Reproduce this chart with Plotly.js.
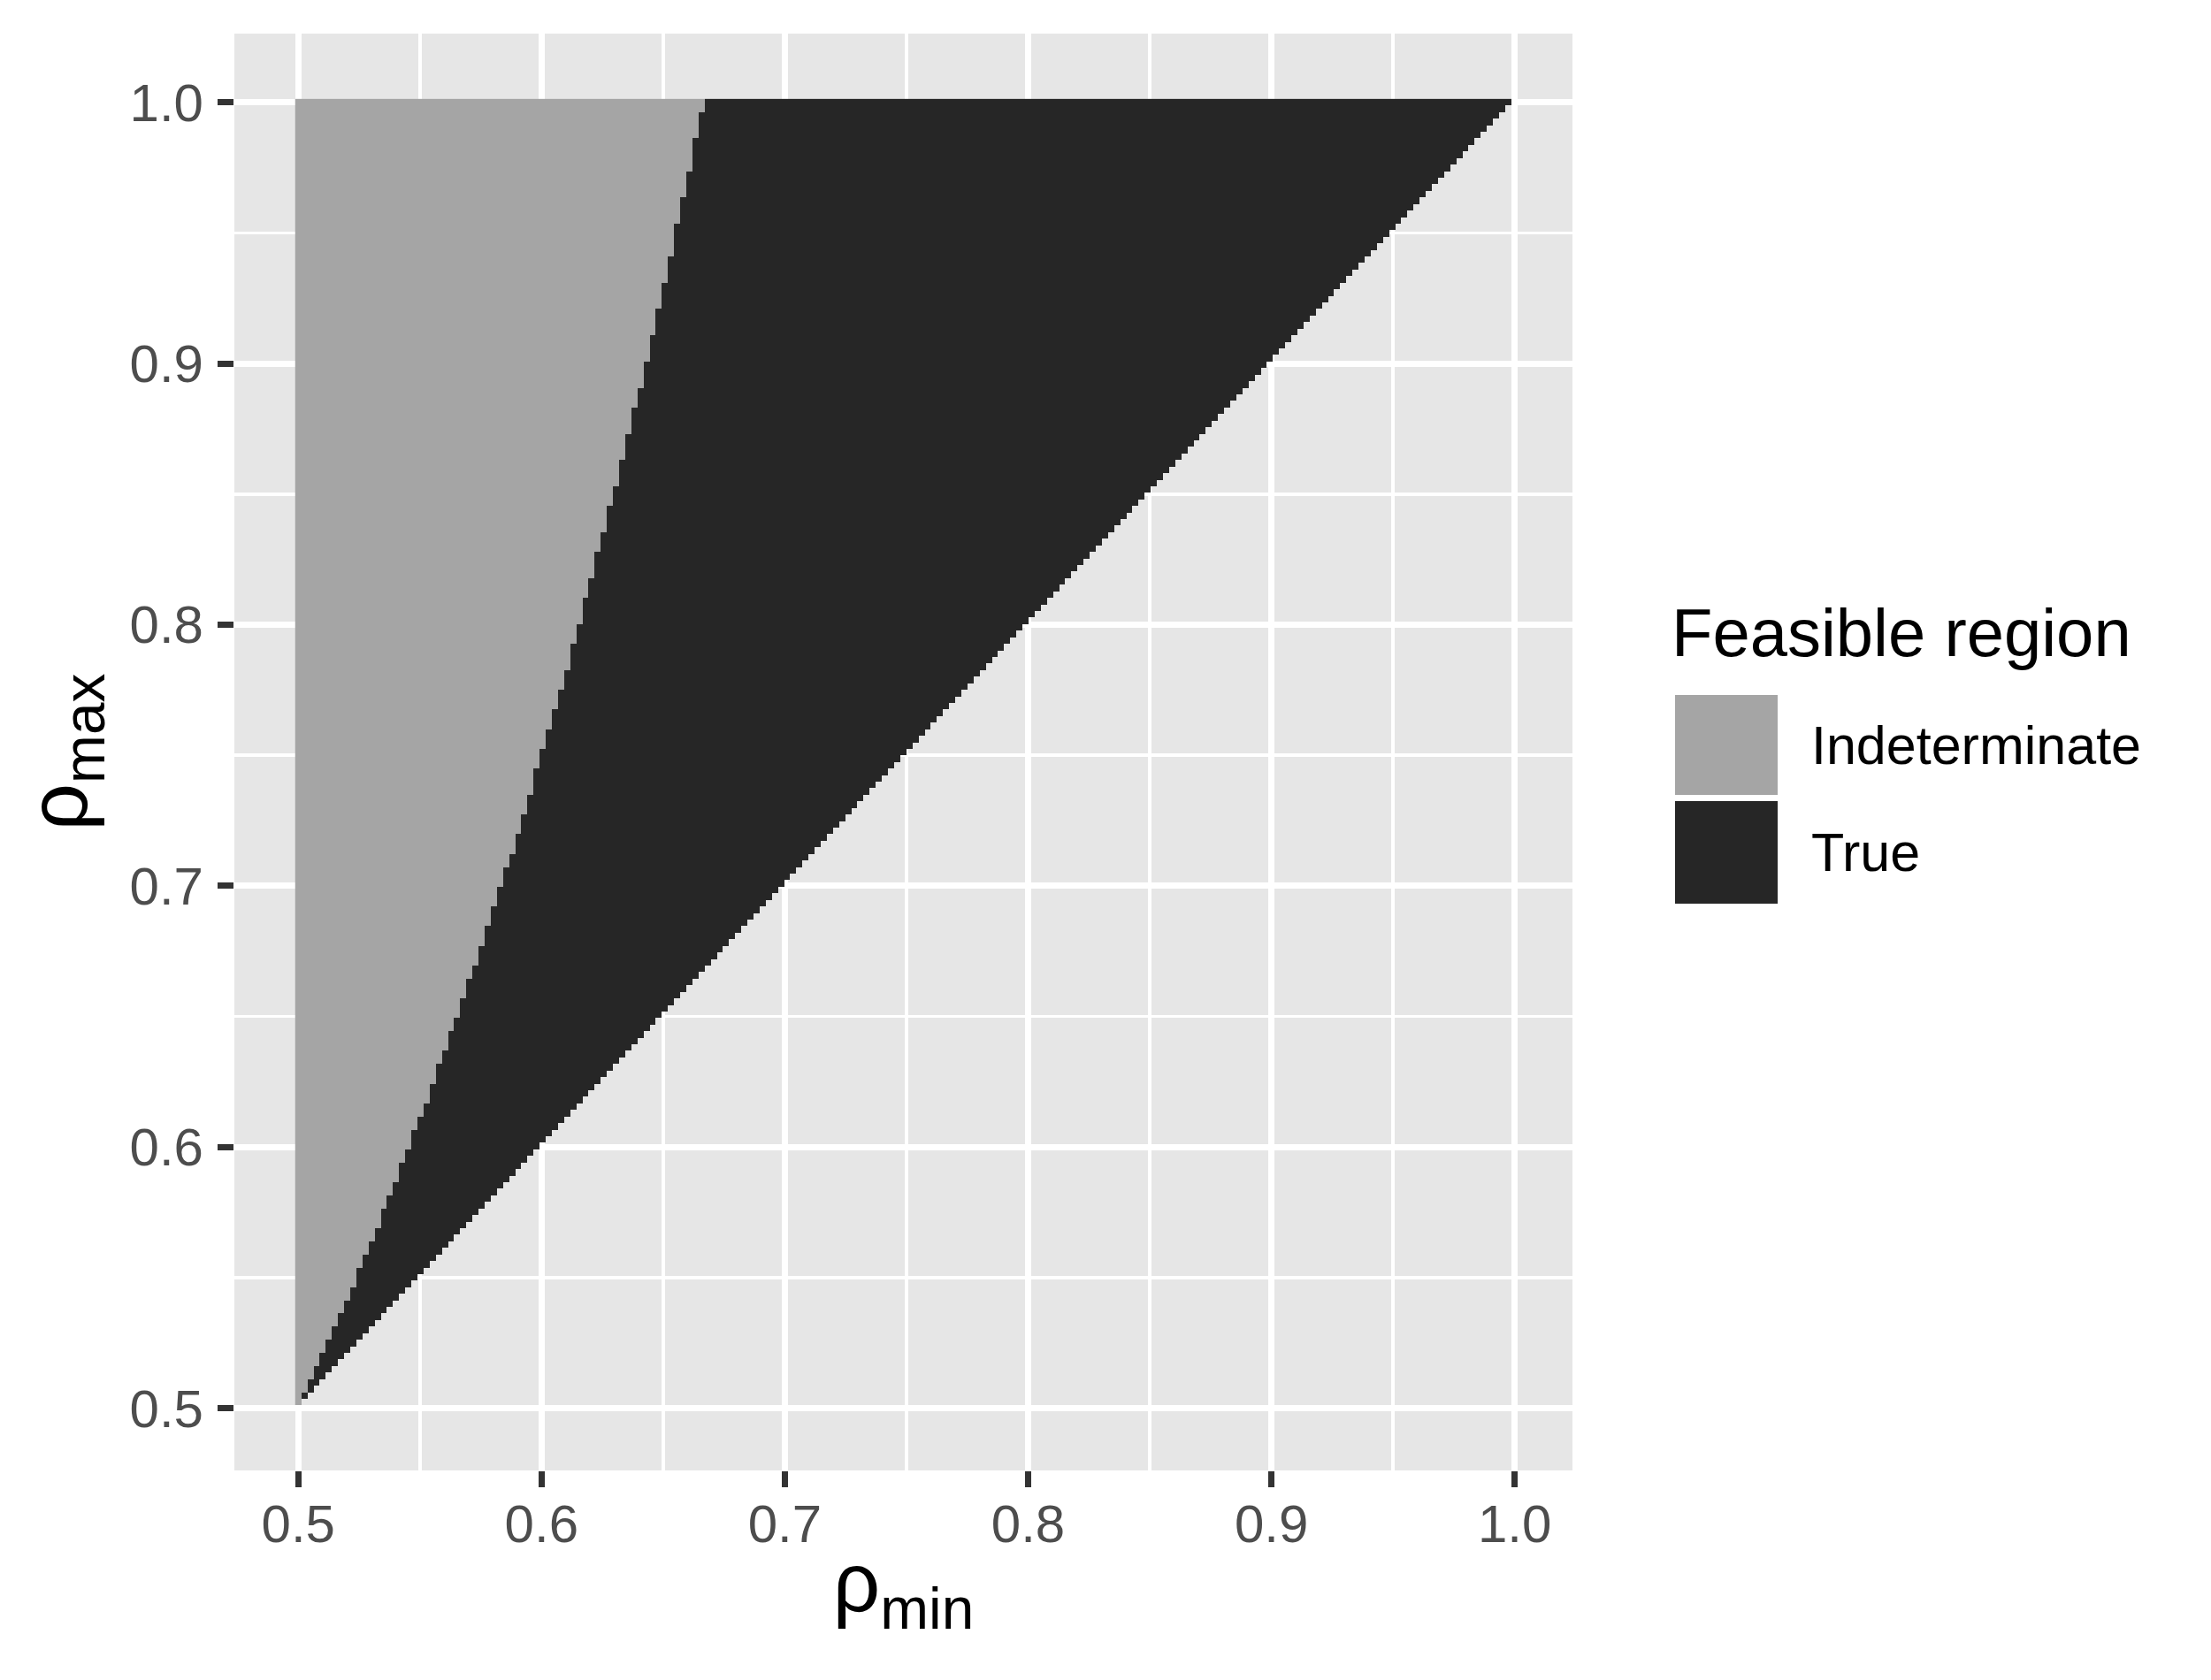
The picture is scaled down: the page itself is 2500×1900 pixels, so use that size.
<!DOCTYPE html>
<html>
<head>
<meta charset="utf-8">
<script src="https://cdn.plot.ly/plotly-3.0.1.min.js"></script>
<style>
  html, body { margin: 0; padding: 0; background: #ffffff; }
  #chart { width: 2500px; height: 1900px; }
</style>
</head>
<body>
<div id="chart"></div>
<script>
// ---------------- data ----------------
// rho grid: 200 evenly spaced values from 0.5 to 1.0 (both axes)
const gridFrom = 0.5;
const gridTo = 1.0;
const gridPoints = 200;

// fill categories and their colours
const categories = ['Indeterminate', 'True'];
const categoryColors = ['#A5A5A5', '#262626'];

// Read from the staircase boundary in the picture: going up the rho_max rows
// (from the lowest filled row), how many consecutive rows have an
// Indeterminate band that is 1, 2, 3, ... cells wide (counted from rho_min = 0.5).
const rowsPerIndeterminateWidth = [
  2, 2, 2, 2, 2, 2, 2, 2, 2, 3,
  2, 2, 2, 3, 2, 2, 3, 2, 3, 2,
  2, 3, 3, 2, 3, 2, 3, 3, 2, 3,
  3, 3, 3, 3, 2, 3, 3, 3, 4, 3,
  3, 3, 3, 3, 4, 3, 4, 3, 4, 3,
  4, 3, 4, 4, 4, 3, 4, 4, 4, 4,
  4, 5, 4, 4, 5, 4, 2
];

// axis ticks
const tickValues = [0.5, 0.6, 0.7, 0.8, 0.9, 1.0];
const tickLabels = ['0.5', '0.6', '0.7', '0.8', '0.9', '1.0'];
const minorTickValues = [0.55, 0.65, 0.75, 0.85, 0.95];

const xTitle = 'ρ<sub>min</sub>';
const yTitle = 'ρ<sub>max</sub>';
const legendTitle = 'Feasible region';

// ---------------- build heatmap table ----------------
const step = (gridTo - gridFrom) / (gridPoints - 1);
const rhoGrid = [];
for (let i = 0; i < gridPoints; i++) rhoGrid.push(gridFrom + i * step);

// indeterminate width for each rho_max row (row 0 has no filled cells)
const widthPerRow = [0];
rowsPerIndeterminateWidth.forEach((nRows, idx) => {
  for (let r = 0; r < nRows; r++) widthPerRow.push(idx + 1);
});

const z = [];
for (let j = 0; j < gridPoints; j++) {
  const row = [];
  for (let k = 0; k < gridPoints; k++) {
    if (k >= j) row.push(null);                 // outside feasible region (rho_min >= rho_max)
    else row.push(k < widthPerRow[j] ? 0 : 1);  // 0 = Indeterminate, 1 = True
  }
  z.push(row);
}

const trace = {
  type: 'heatmap',
  x: rhoGrid,
  y: rhoGrid,
  z: z,
  zmin: 0,
  zmax: 1,
  colorscale: [[0, categoryColors[0]], [0.5, categoryColors[0]], [0.5, categoryColors[1]], [1, categoryColors[1]]],
  showscale: false,
  hoverinfo: 'skip',
  xgap: 0, ygap: 0
};

// ggplot-like expansion (5% of the tile extent)
const xLo = gridFrom - step / 2, xHi = gridTo - step + step / 2;
const yLo = gridFrom + step - step / 2, yHi = gridTo + step / 2;
const xPad = 0.05 * (xHi - xLo), yPad = 0.05 * (yHi - yLo);

// ---------------- layout ----------------
const W = 2500, H = 1900;
const M = { l: 265, r: 722, t: 38, b: 237 };
const pw = W - M.l - M.r, ph = H - M.t - M.b;
const px = x => (x - M.l) / pw;
const py = y => (H - M.b - y) / ph;

const fontFamily = '"Liberation Sans", Arial, Helvetica, sans-serif';

const axisCommon = {
  tickmode: 'array',
  tickvals: tickValues,
  ticktext: tickLabels,
  ticks: 'outside',
  ticklen: 18,
  tickwidth: 7,
  tickcolor: '#333333',
  tickfont: { size: 60, color: '#4D4D4D', family: fontFamily },
  showgrid: true,
  gridcolor: '#FFFFFF',
  gridwidth: 7,
  minor: { tickmode: 'array', tickvals: minorTickValues, showgrid: true, gridcolor: '#FFFFFF', gridwidth: 3.5, ticks: '' },
  zeroline: false,
  showline: false,
  fixedrange: true,
  automargin: false
};

const shapes = [];
const annotations = [];
// legend keys (drawn as boxes in paper space)
const keyBoxes = [[786, 899], [906, 1022]];
categories.forEach((cat, i) => {
  shapes.push({
    type: 'rect', xref: 'paper', yref: 'paper',
    x0: px(1894), x1: px(2010), y0: py(keyBoxes[i][1]), y1: py(keyBoxes[i][0]),
    fillcolor: categoryColors[i], line: { width: 0 }, layer: 'above'
  });
  annotations.push({
    xref: 'paper', yref: 'paper', x: px(2046), y: py((keyBoxes[i][0] + keyBoxes[i][1]) / 2),
    xanchor: 'left', yanchor: 'middle', showarrow: false, text: cat,
    font: { size: 61, color: '#000000', family: fontFamily }
  });
});
annotations.push({
  xref: 'paper', yref: 'paper', x: px(1888), y: py(716),
  xanchor: 'left', yanchor: 'middle', showarrow: false, text: legendTitle,
  font: { size: 76, color: '#000000', family: fontFamily }
});

const layout = {
  width: W, height: H,
  margin: M,
  paper_bgcolor: '#FFFFFF',
  plot_bgcolor: '#E6E6E6',
  font: { family: fontFamily, color: '#000000' },
  showlegend: false,
  xaxis: Object.assign({}, axisCommon, {
    range: [xLo - xPad, xHi + xPad],
    ticklabelstandoff: -10,
    title: { text: xTitle, font: { size: 94, color: '#000000', family: fontFamily }, standoff: 0 }
  }),
  yaxis: Object.assign({}, axisCommon, {
    range: [yLo - yPad, yHi + yPad],
    ticklabelstandoff: 4,
    title: { text: yTitle, font: { size: 94, color: '#000000', family: fontFamily }, standoff: 16 }
  }),
  shapes: shapes,
  annotations: annotations
};

Plotly.newPlot('chart', [trace], layout, { staticPlot: true, displayModeBar: false });
</script>
</body>
</html>
